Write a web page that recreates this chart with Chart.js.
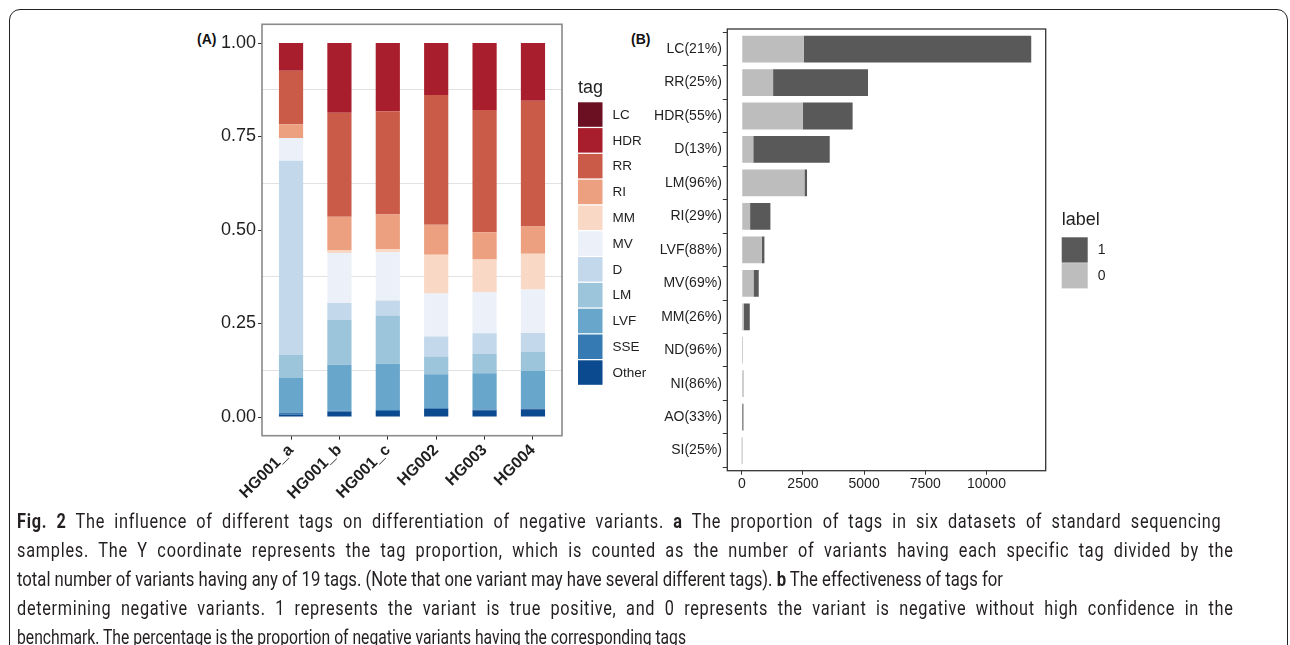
<!DOCTYPE html>
<html>
<head>
<meta charset="utf-8">
<script src="https://cdn.jsdelivr.net/npm/chart.js@4.4.1/dist/chart.umd.min.js"></script>
<style>
  html, body { margin: 0; padding: 0; background: #fff; }
  body { width: 1290px; height: 645px; position: relative; overflow: hidden;
         font-family: "Liberation Sans", Arial, sans-serif; }
  .frame { position: absolute; left: 9px; top: 9px; width: 1279px; height: 690px;
           border: 1.5px solid #222; border-radius: 11px; box-sizing: border-box; }
  #chartA { position: absolute; left: 180px; top: 0; }
  #chartB { position: absolute; left: 650px; top: 0; }
  .plabel { position: absolute; font-weight: bold; font-size: 14px; color: #111; }
  .caption { position: absolute; left: 17px; top: 507px; font-family: Roboto, "Open Sans", sans-serif;
             font-size: 21px; line-height: 29px; color: #231f20; }
  .caption .ln { display: block; white-space: nowrap; width: max-content; transform-origin: 0 50%; }
  .caption b { font-weight: bold; }
</style>
</head>
<body>
<div class="frame"></div>
<div class="plabel" style="left:197px;top:31px;">(A)</div>
<div class="plabel" style="left:631px;top:31px;">(B)</div>
<canvas id="chartA" width="470" height="520"></canvas>
<canvas id="chartB" width="520" height="520"></canvas>
<div class="caption" id="caption">
  <span class="ln" data-w="1204" data-j="1"><b>Fig. 2</b> The influence of different tags on differentiation of negative variants. <b>a</b> The proportion of tags in six datasets of standard sequencing</span>
  <span class="ln" data-w="1216" data-j="1">samples. The Y coordinate represents the tag proportion, which is counted as the number of variants having each specific tag divided by the</span>
  <span class="ln" data-w="986">total number of variants having any of 19 tags. (Note that one variant may have several different tags). <b>b</b> The effectiveness of tags for</span>
  <span class="ln" data-w="1216" data-j="1">determining negative variants. 1 represents the variant is true positive, and 0 represents the variant is negative without high confidence in the</span>
  <span class="ln" data-w="669">benchmark. The percentage is the proportion of negative variants having the corresponding tags</span>
</div>
<script>
// ---- Panel A: tag proportions per dataset ----
const sampleNames = ['HG001_a', 'HG001_b', 'HG001_c', 'HG002', 'HG003', 'HG004'];
const tagNames = ['LC', 'HDR', 'RR', 'RI', 'MM', 'MV', 'D', 'LM', 'LVF', 'SSE', 'Other'];
const tagColors = ['#6a1022', '#a81e2c', '#cb5b49', '#eca07f', '#f9d8c6', '#ecf0f8',
                   '#c3d8ea', '#9cc4da', '#68a6cb', '#357ab3', '#0b4a8f'];
const propLC    = [0.000, 0.000, 0.000, 0.000, 0.000, 0.000];
const propHDR   = [0.074, 0.1865, 0.1825, 0.139, 0.179, 0.1545];
const propRR    = [0.143, 0.278, 0.276, 0.347, 0.327, 0.336];
const propRI    = [0.037, 0.090, 0.093, 0.080, 0.073, 0.073];
const propMM    = [0.000, 0.007, 0.008, 0.104, 0.087, 0.0955];
const propMV    = [0.061, 0.1335, 0.129, 0.1145, 0.110, 0.1165];
const propD     = [0.519, 0.045, 0.040, 0.0535, 0.055, 0.050];
const propLM    = [0.062, 0.120, 0.129, 0.048, 0.052, 0.0515];
const propLVF   = [0.092, 0.123, 0.1235, 0.090, 0.097, 0.100];
const propSSE   = [0.005, 0.002, 0.003, 0.002, 0.002, 0.002];
const propOther = [0.007, 0.015, 0.016, 0.022, 0.018, 0.021];
const propTicks = [0, 0.125, 0.25, 0.375, 0.5, 0.625, 0.75, 0.875, 1];

// ---- Panel B: variant counts per tag (0 = negative, 1 = true positive) ----
const tagsB    = ['LC', 'RR', 'HDR', 'D', 'LM', 'RI', 'LVF', 'MV', 'MM', 'ND', 'NI', 'AO', 'SI'];
const negCount = [2530, 1280, 2490, 470, 2560, 340, 815, 478, 85, 48, 62, 22, 4];
const posCount = [9300, 3880, 2040, 3125, 107, 830, 110, 215, 242, 2, 10, 45, 12];
const countTicks = [0, 2500, 5000, 7500, 10000];

const FONT = '"Liberation Sans", Arial, sans-serif';
const TXT = '#1f1f1f';

const propByTag = { LC: propLC, HDR: propHDR, RR: propRR, RI: propRI, MM: propMM, MV: propMV,
                    D: propD, LM: propLM, LVF: propLVF, SSE: propSSE, Other: propOther };

function framePlugin(color, width) {
  return {
    id: 'panelFrame',
    afterDraw(chart) {
      const { ctx, chartArea: a } = chart;
      ctx.save();
      ctx.strokeStyle = color;
      ctx.lineWidth = width;
      ctx.strokeRect(a.left, a.top, a.right - a.left, a.bottom - a.top);
      ctx.restore();
    }
  };
}

function keyPlugin(k) {
  return {
    id: 'sideKey',
    afterDraw(chart) {
      const { ctx, chartArea: a } = chart;
      const x = a.right + k.dx;
      ctx.save();
      ctx.textAlign = 'left';
      ctx.textBaseline = 'middle';
      ctx.fillStyle = TXT;
      ctx.font = k.titleFont;
      ctx.fillText(k.title, x, k.titleY);
      k.items.forEach((it, i) => {
        const y = k.top + i * k.pitch;
        ctx.fillStyle = it.color;
        ctx.fillRect(x, y, k.boxW, k.boxH);
        ctx.fillStyle = TXT;
        ctx.font = k.font;
        ctx.fillText(it.text, x + k.boxW + k.gap, y + k.boxH / 2 + 0.5);
      });
      ctx.restore();
    }
  };
}

const isMinor = v => Math.round(v * 8) % 2 === 1;

// stacking goes bottom (Other) to top (LC)
const stackOrder = tagNames.slice().reverse();
new Chart(document.getElementById('chartA'), {
  type: 'bar',
  data: {
    datasets: stackOrder.map(t => ({
      label: t,
      data: sampleNames.map((s, i) => ({ x: i, y: propByTag[t][i] })),
      backgroundColor: tagColors[tagNames.indexOf(t)],
      borderWidth: 0,
      categoryPercentage: 1,
      barPercentage: 0.5
    }))
  },
  options: {
    responsive: false,
    animation: false,
    layout: { padding: { top: 24.3, right: 88, bottom: 0, left: 0 } },
    plugins: { legend: { display: false }, tooltip: { enabled: false } },
    scales: {
      x: {
        type: 'linear', stacked: true, offset: false,
        min: -0.6, max: sampleNames.length - 0.4,
        afterBuildTicks: s => { s.ticks = sampleNames.map((_, i) => ({ value: i })); },
        afterFit: s => { s.height = 84.3; },
        grid: { drawOnChartArea: false, drawTicks: true, tickLength: 4, tickColor: '#333', offset: false },
        border: { display: false },
        ticks: {
          autoSkip: false, maxRotation: 45, minRotation: 45, padding: 1, color: TXT,
          font: { family: FONT, size: 16, weight: 'bold' },
          callback: v => sampleNames[Math.round(v)]
        }
      },
      y: {
        type: 'linear', stacked: true, min: -0.05, max: 1.05,
        afterBuildTicks: s => { s.ticks = propTicks.map(v => ({ value: v })); },
        afterFit: s => { s.width = 82; },
        grid: {
          color: c => (c.tick && isMinor(c.tick.value)) ? '#e2e2e2' : 'rgba(0,0,0,0)',
          tickColor: c => (c.tick && isMinor(c.tick.value)) ? 'rgba(0,0,0,0)' : '#333',
          tickLength: 4, lineWidth: 1
        },
        border: { display: false },
        ticks: {
          padding: 2, color: TXT, font: { family: FONT, size: 18 },
          callback: v => isMinor(v) ? '' : v.toFixed(2)
        }
      }
    }
  },
  plugins: [
    framePlugin('#8a8a8a', 1.6),
    keyPlugin({
      dx: 16, title: 'tag', titleY: 88, titleFont: '18px ' + FONT,
      top: 102.3, pitch: 25.8, boxW: 24.5, boxH: 24.5, gap: 10, font: '13.5px ' + FONT,
      items: tagNames.map((t, i) => ({ text: t, color: tagColors[i] }))
    })
  ]
});

// ---- Panel B ----
const totalsB = tagsB.map((_, i) => negCount[i] + posCount[i]);
const maxTotal = Math.max(...totalsB);
const labelsB = tagsB.map((t, i) => t + '(' + Math.round(100 * negCount[i] / totalsB[i]) + '%)');
const colNeg = '#bdbdbd', colPos = '#595959';

new Chart(document.getElementById('chartB'), {
  type: 'bar',
  data: {
    datasets: [
      { label: '0', data: tagsB.map((_, i) => ({ y: i, x: negCount[i] })), backgroundColor: colNeg },
      { label: '1', data: tagsB.map((_, i) => ({ y: i, x: posCount[i] })), backgroundColor: colPos }
    ].map(d => Object.assign(d, { borderWidth: 0, categoryPercentage: 1, barPercentage: 0.8 }))
  },
  options: {
    indexAxis: 'y',
    responsive: false,
    animation: false,
    layout: { padding: { top: 29, right: 124.3, bottom: 0, left: 0 } },
    plugins: { legend: { display: false }, tooltip: { enabled: false } },
    scales: {
      x: {
        type: 'linear', stacked: true, offset: false,
        min: -0.05 * maxTotal, max: 1.05 * maxTotal,
        afterBuildTicks: s => { s.ticks = countTicks.map(v => ({ value: v })); },
        afterFit: s => { s.height = 49.3; },
        grid: { drawOnChartArea: false, tickLength: 4, tickColor: '#333' },
        border: { display: false },
        ticks: { padding: 1, color: TXT, font: { family: FONT, size: 14 }, callback: v => String(v) }
      },
      y: {
        type: 'linear', stacked: true, reverse: true, offset: false,
        min: -0.6, max: tagsB.length - 0.4,
        afterBuildTicks: s => { s.ticks = tagsB.map((_, i) => ({ value: i })); },
        afterFit: s => { s.width = 77.3; },
        grid: { drawOnChartArea: false, tickLength: 4.5, tickColor: '#333' },
        border: { display: false },
        ticks: { padding: 1, color: TXT, font: { family: FONT, size: 14 }, callback: v => labelsB[Math.round(v)] }
      }
    }
  },
  plugins: [
    framePlugin('#333', 1.3),
    keyPlugin({
      dx: 16, title: 'label', titleY: 220, titleFont: '18px ' + FONT,
      top: 237.3, pitch: 25.8, boxW: 26, boxH: 25.3, gap: 10, font: '14px ' + FONT,
      items: [{ text: '1', color: colPos }, { text: '0', color: colNeg }]
    })
  ]
});

// Caption: ragged lines are squeezed to their measure; justified lines use the
// mean squeeze and share the slack between word spacing and letter spacing
const capLines = Array.from(document.querySelectorAll('#caption .ln'));
const natural = capLines.map(el => el.getBoundingClientRect().width);
let tSum = 0, nSum = 0;
capLines.forEach((el, i) => { if (!el.dataset.j) { tSum += parseFloat(el.dataset.w); nSum += natural[i]; } });
const squeeze = tSum / nSum;
capLines.forEach((el, i) => {
  const target = parseFloat(el.dataset.w);
  if (el.dataset.j) {
    el.style.transform = 'scaleX(' + squeeze + ')';
    const text = el.textContent.trim().replace(/\s+/g, ' ');
    const gaps = text.split(' ').length - 1;
    const slack = target / squeeze - natural[i];
    el.style.letterSpacing = (0.5 * slack / text.length) + 'px';
    el.style.wordSpacing = (0.5 * slack / gaps) + 'px';
  } else {
    el.style.transform = 'scaleX(' + (target / natural[i]) + ')';
  }
});
</script>
</body>
</html>
